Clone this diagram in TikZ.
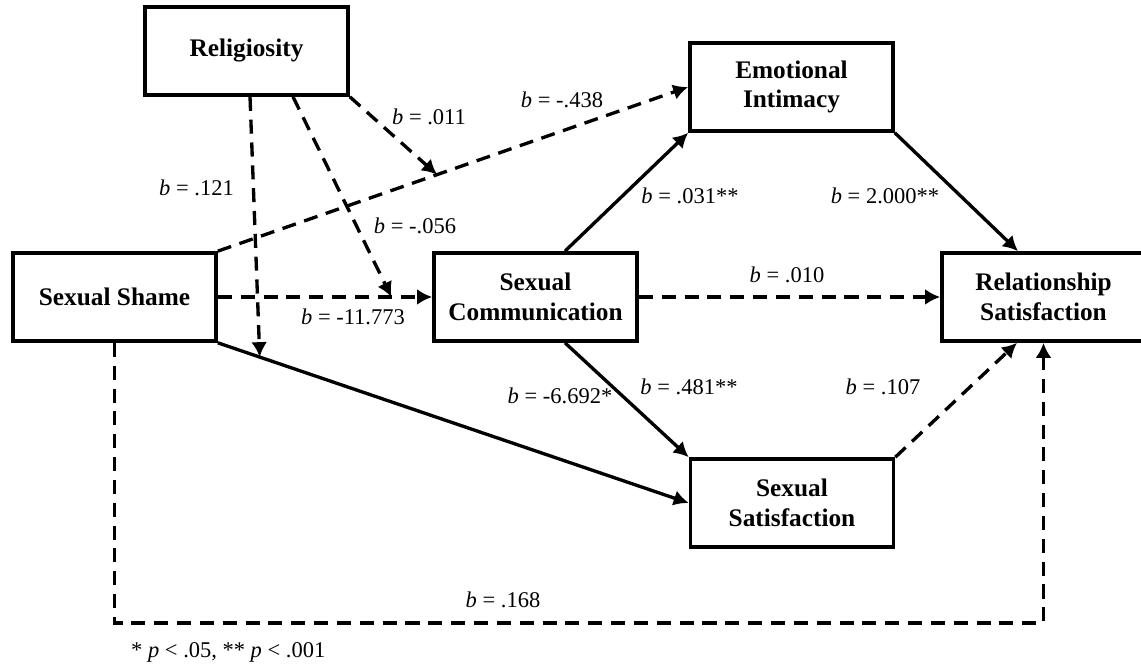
\documentclass[tikz,border=0pt]{standalone}
\usepackage{fontspec}
\setmainfont{Liberation Serif}
\usetikzlibrary{arrows.meta,calc}
\begin{document}
\begin{tikzpicture}[
	box/.style = {draw, line width=2.1pt, minimum width=4.06cm, minimum height=1.76cm, align=center, font=\fontsize{14.4}{17}\selectfont\bfseries},
	coef/.style = {font=\fontsize{12.8}{15}\selectfont},
	sig/.style = {line width=1.9pt, -{Latex[length=8.5pt,width=9pt]}},
	nonsig/.style = {sig, dash pattern=on 8pt off 5pt},
	]
	\useasboundingbox (0,0) rectangle (22.82,13.32);
	\node (R)  at ( 4.93, 12.30)	[box]	{Religiosity};
	\node (SH) at ( 2.29,  7.38)	[box]	{Sexual Shame};
	\node (SC) at (10.71,  7.38)	[box]	{Sexual\\Communication};
	\node (EI) at (15.83, 11.58)	[box]	{Emotional\\Intimacy};
	\node (RS) at (20.87,  7.38)	[box]	{Relationship\\Satisfaction};
	\node (SS) at (15.84,  3.26)	[box]	{Sexual\\Satisfaction};
	\coordinate (M1) at ($(SH.south east)!0.089!(SS.west)$);
	\coordinate (M2) at ($(SH.east)!0.81!(SC.west)$);
	\coordinate (M3) at ($(SH.north east)!0.466!(EI.west)$);
	\coordinate (LOW) at (10, 0.86);
	\draw[nonsig] (SH.north east) -- (EI.west);
	\draw[nonsig] (SH.east) -- (SC.west);
	\draw[sig] (SH.south east) -- (SS.west);
	\draw[nonsig] (SH.south) |- (LOW) -| (RS.south);
	\draw[nonsig] ([xshift=2pt]R.south) -- (M1);
	\draw[nonsig] ([xshift=0.93cm]R.south) -- (M2);
	\draw[nonsig] (R.south east) -- (M3);
	\draw[sig] ([xshift=0.59cm]SC.north) -- (EI.south west);
	\draw[sig] ([xshift=0.59cm]SC.south) -- (SS.north west);
	\draw[nonsig] (SC.east) -- (RS.west);
	\draw[sig] (EI.south east) -- ([xshift=-0.51cm]RS.north);
	\draw[nonsig] (SS.north east) -- ([xshift=-0.53cm]RS.south);
	\node (B1)  at ( 4.80,  9.56)	[coef, anchor=east]	{\textit{b} = .121};
	\node (B2)  at ( 8.30,  8.80)	[coef]	{\textit{b} = -.056};
	\node (B3)  at ( 8.58, 10.98)	[coef]	{\textit{b} = .011};
	\node (B4)  at (11.24, 11.32)	[coef]	{\textit{b} = -.438};
	\node (B5)  at ( 7.06,  6.98)	[coef]	{\textit{b} = -11.773};
	\node (B6)  at (11.20,  5.40)	[coef]	{\textit{b} = -6.692*};
	\node (B7)  at (13.80,  9.40)	[coef]	{\textit{b} = .031**};
	\node (B8)  at (15.74,  7.82)	[coef]	{\textit{b} = .010};
	\node (B9)  at (13.78,  5.58)	[coef]	{\textit{b} = .481**};
	\node (B10) at (17.70,  9.40)	[coef]	{\textit{b} = 2.000**};
	\node (B11) at (17.66,  5.58)	[coef]	{\textit{b} = .107};
	\node (B12) at (10.06,  1.32)	[coef]	{\textit{b} = .168};
	\node (NOTE) at ( 2.50,  0.28)	[coef, anchor=west]	{* \textit{p} < .05, ** \textit{p} < .001};
\end{tikzpicture}
\end{document}
